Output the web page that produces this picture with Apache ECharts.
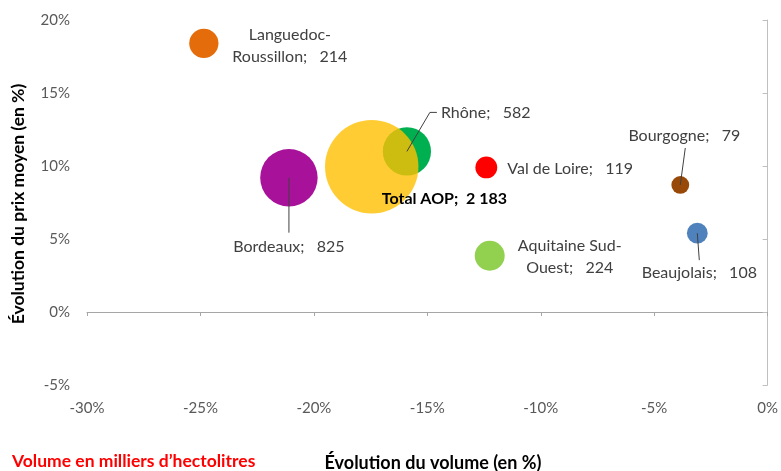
<!DOCTYPE html>
<html>
<head>
<meta charset="utf-8">
<script src="https://cdn.jsdelivr.net/npm/echarts@6/dist/echarts.min.js"></script>
<style>
  html, body { margin: 0; padding: 0; background: #fff; }
  #chart { width: 781px; height: 471px; }
</style>
</head>
<body>
<div id="chart"></div>
<script>
// Régions AOP : évolution du volume, du prix moyen, volume en milliers d'hl
var regions = ['Languedoc-Roussillon', 'Bordeaux', 'Rhône', 'Val de Loire', 'Aquitaine Sud-Ouest', 'Bourgogne', 'Beaujolais', 'Total AOP'];
var volumeChange = [-24.85, -21.1, -15.9, -12.4, -12.25, -3.85, -3.1, -17.45];
var priceChange = [18.4, 9.2, 11.0, 9.9, 3.85, 8.7, 5.4, 9.95];
var volumes = [214, 825, 582, 119, 224, 79, 108, 2183];
var xTicks = [-30, -25, -20, -15, -10, -5, 0];
var yTicks = [-5, 0, 5, 10, 15, 20];

var colors = ['#E46C0A', '#A8119A', '#00B050', '#FF0000', '#92D050', '#984807', '#4F81BD', 'rgba(255,192,0,0.8)'];

// label placement (pixels from bubble centre) and leader lines
var labelCfg = {
    'Languedoc-Roussillon': { dx: 86, dy: 2, align: 'center' },
    'Bordeaux': { dx: 0, dy: 69, align: 'center', lead: [[0, 0], [0, 55]] },
    'Rhône': { dx: 34, dy: -39, align: 'left', lead: [[0, 0], [23, -39], [30, -39]] },
    'Val de Loire': { dx: 21, dy: 1, align: 'left' },
    'Aquitaine Sud-Ouest': { dx: 80, dy: 1, align: 'center' },
    'Bourgogne': { dx: 4, dy: -49, align: 'center', lead: [[0, 0], [5, -37]] },
    'Beaujolais': { dx: 2, dy: 40, align: 'center', lead: [[0, 0], [2, 27]] },
    'Total AOP': { dx: 10, dy: 32, align: 'left', bold: true }
};

var FONT = 'Lato, "Noto Sans", sans-serif';

function fmtVol(v) {
    return String(v).replace(/\B(?=(\d{3})+(?!\d))/g, ' ');
}

var points = [];
var leads = [];
for (var i = 0; i < regions.length; i++) {
    var cfg = labelCfg[regions[i]];
    var text = cfg.bold
        ? regions[i] + ';  ' + fmtVol(volumes[i])
        : regions[i].replace('-', '-\n') + ';   ' + fmtVol(volumes[i]);
    points.push({
        name: regions[i],
        value: [volumeChange[i], priceChange[i], volumes[i]],
        itemStyle: { color: colors[i], opacity: 1 },
        label: {
            show: true,
            position: 'inside',
            offset: [cfg.dx, cfg.dy],
            align: cfg.align,
            verticalAlign: 'middle',
            formatter: text,
            fontWeight: cfg.bold ? 'bold' : 'normal',
            color: cfg.bold ? '#000' : '#404040'
        }
    });
    if (cfg.lead) {
        leads.push([volumeChange[i], priceChange[i], i]);
    }
}

var chart = echarts.init(document.getElementById('chart'));

var pct = function (v) { return v + '%'; };

chart.setOption({
    animation: false,
    textStyle: { fontFamily: FONT },
    grid: { left: 87, right: 13, top: 20, bottom: 86 },
    xAxis: [{
        type: 'value', min: -30, max: 0, interval: 5,
        position: 'bottom',
        axisLine: { show: false, onZero: false },
        axisTick: { show: false },
        splitLine: { show: false },
        axisLabel: { formatter: pct, fontSize: 15, color: '#595959', margin: 16, fontFamily: FONT }
    }, {
        type: 'value', min: -30, max: 0, interval: 5,
        position: 'bottom',
        axisLine: { show: true, onZero: true, lineStyle: { color: '#A6A6A6', width: 1 } },
        axisTick: { show: true, length: 4, lineStyle: { color: '#A6A6A6' } },
        splitLine: { show: false },
        axisLabel: { show: false }
    }],
    yAxis: [{
        type: 'value', min: -5, max: 20, interval: 5,
        position: 'left',
        axisLine: { show: false, onZero: false },
        axisTick: { show: false },
        splitLine: { show: false },
        axisLabel: { formatter: pct, fontSize: 15, color: '#595959', margin: 17, fontFamily: FONT }
    }, {
        type: 'value', min: -5, max: 20, interval: 5,
        position: 'right',
        axisLine: { show: true, onZero: false, lineStyle: { color: '#BFBFBF', width: 1 } },
        axisTick: { show: true, inside: true, length: 5, lineStyle: { color: '#BFBFBF' } },
        splitLine: { show: false },
        axisLabel: { show: false }
    }],
    series: [{
        type: 'scatter',
        xAxisIndex: 0,
        yAxisIndex: 0,
        symbol: 'circle',
        symbolSize: function (val) { return 2 * Math.sqrt(val[2]); },
        itemStyle: { opacity: 1 },
        label: { fontSize: 16, lineHeight: 22, fontFamily: FONT },
        emphasis: { disabled: true },
        data: points
    }, {
        type: 'custom',
        xAxisIndex: 0,
        yAxisIndex: 0,
        silent: true,
        z: 3,
        data: leads,
        renderItem: function (params, api) {
            var c = api.coord([api.value(0), api.value(1)]);
            var lead = labelCfg[regions[api.value(2)]].lead;
            var pts = lead.map(function (p) { return [c[0] + p[0], c[1] + p[1]]; });
            return {
                type: 'polyline',
                shape: { points: pts },
                style: { stroke: '#404040', lineWidth: 1, fill: null }
            };
        }
    }],
    graphic: [{
        type: 'text',
        style: {
            text: 'Évolution du volume (en %)',
            x: 433, y: 463,
            align: 'center', verticalAlign: 'middle',
            font: 'bold 18px ' + FONT, fill: '#000'
        }
    }, {
        type: 'text',
        style: {
            text: 'Volume en milliers d\u2019hectolitres',
            x: 12, y: 461,
            align: 'left', verticalAlign: 'middle',
            font: 'bold 17.5px ' + FONT, fill: '#FF0000'
        }
    }, {
        type: 'text',
        x: 18, y: 204,
        rotation: Math.PI / 2,
        style: {
            text: 'Évolution du prix moyen (en %)',
            x: 0, y: 0,
            align: 'center', verticalAlign: 'middle',
            font: 'bold 17.5px ' + FONT, fill: '#000'
        }
    }]
});
</script>
</body>
</html>
